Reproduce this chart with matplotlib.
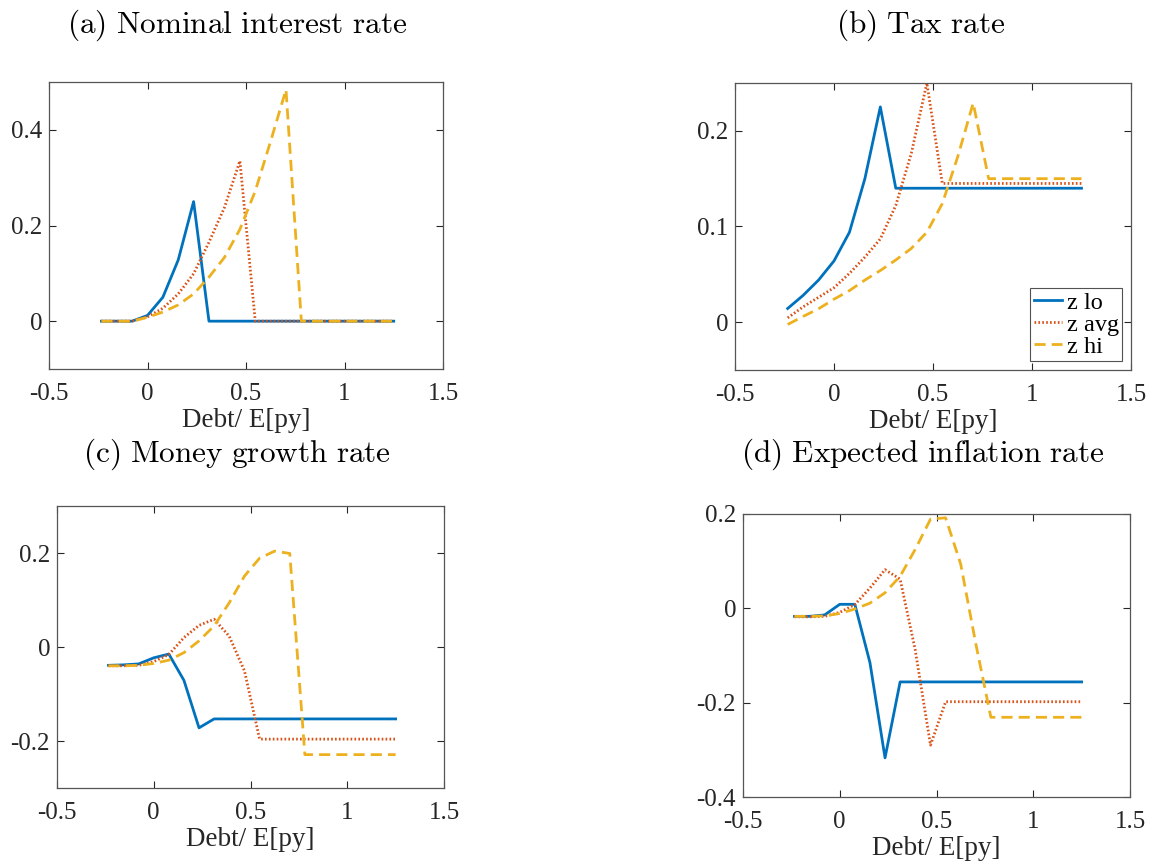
import matplotlib
matplotlib.use("Agg")
import matplotlib.pyplot as plt
from matplotlib.ticker import FuncFormatter

plt.rcParams['font.family'] = ['Liberation Serif', 'DejaVu Serif']
plt.rcParams['mathtext.fontset'] = 'cm'
plt.rcParams['axes.unicode_minus'] = False

# ---- data ----
debt = [-0.234, -0.156, -0.078, 0.0, 0.078, 0.156, 0.234, 0.312, 0.390, 0.469,
        0.547, 0.625, 0.703, 0.781, 0.859, 0.938, 1.016, 1.094, 1.172, 1.25]

nom_lo  = [0, 0, 0, 0.012, 0.050, 0.128, 0.250, 0, 0, 0, 0, 0, 0, 0, 0, 0, 0, 0, 0, 0]
nom_avg = [0, 0, 0, 0.009, 0.027, 0.057, 0.099, 0.165, 0.237, 0.335, 0, 0, 0, 0, 0, 0, 0, 0, 0, 0]
nom_hi  = [0, 0, 0, 0.008, 0.019, 0.034, 0.057, 0.092, 0.133, 0.192, 0.272, 0.376, 0.484,
           0, 0, 0, 0, 0, 0, 0]

tax_lo  = [0.0143, 0.028, 0.044, 0.064, 0.094, 0.150, 0.225, 0.140, 0.140, 0.140,
           0.140, 0.140, 0.140, 0.140, 0.140, 0.140, 0.140, 0.140, 0.140, 0.140]
tax_avg = [0.0045, 0.016, 0.026, 0.036, 0.051, 0.068, 0.087, 0.122, 0.176, 0.250,
           0.145, 0.145, 0.145, 0.145, 0.145, 0.145, 0.145, 0.145, 0.145, 0.145]
tax_hi  = [-0.0024, 0.006, 0.014, 0.024, 0.033, 0.044, 0.054, 0.065, 0.077, 0.094,
           0.124, 0.173, 0.229, 0.150, 0.150, 0.150, 0.150, 0.150, 0.150, 0.150]

mg_lo  = [-0.039, -0.038, -0.036, -0.023, -0.015, -0.071, -0.172, -0.153, -0.153, -0.153,
          -0.153, -0.153, -0.153, -0.153, -0.153, -0.153, -0.153, -0.153, -0.153, -0.153]
mg_avg = [-0.040, -0.040, -0.039, -0.031, -0.016, 0.020, 0.046, 0.059, 0.023, -0.051,
          -0.196, -0.196, -0.196, -0.196, -0.196, -0.196, -0.196, -0.196, -0.196, -0.196]
mg_hi  = [-0.040, -0.040, -0.039, -0.035, -0.028, -0.012, 0.013, 0.045, 0.094, 0.151,
          0.189, 0.204, 0.199, -0.229, -0.229, -0.229, -0.229, -0.229, -0.229, -0.229]

inf_lo  = [-0.017, -0.017, -0.014, 0.0085, 0.0085, -0.115, -0.317, -0.156, -0.156, -0.156,
           -0.156, -0.156, -0.156, -0.156, -0.156, -0.156, -0.156, -0.156, -0.156, -0.156]
inf_avg = [-0.018, -0.018, -0.017, -0.0085, 0.008, 0.043, 0.082, 0.062, -0.088, -0.290,
           -0.198, -0.198, -0.198, -0.198, -0.198, -0.198, -0.198, -0.198, -0.198, -0.198]
inf_hi  = [-0.017, -0.017, -0.016, -0.011, -0.0014, 0.011, 0.033, 0.068, 0.125, 0.189,
           0.192, 0.094, -0.075, -0.231, -0.231, -0.231, -0.231, -0.231, -0.231, -0.231]

titles = ["(a) Nominal interest rate", "(b) Tax rate",
          "(c) Money growth rate", "(d) Expected inflation rate"]
series_names = ["z lo", "z avg", "z hi"]
xlabel = "Debt/ E[py]"
xticks = [-0.5, 0, 0.5, 1, 1.5]
ylims = [(-0.1, 0.5), (-0.05, 0.25), (-0.3, 0.3), (-0.4, 0.2)]
yticks = [[0, 0.2, 0.4], [0, 0.1, 0.2], [-0.2, 0, 0.2], [-0.4, -0.2, 0, 0.2]]
panels = [(nom_lo, nom_avg, nom_hi), (tax_lo, tax_avg, tax_hi),
          (mg_lo, mg_avg, mg_hi), (inf_lo, inf_avg, inf_hi)]

colors = ['#0072BD', '#D95319', '#EDB120']
styles = ['-', (0, (0.6, 0.8)), (0, (4.0, 2.2))]

W, H = 1153, 867
fig = plt.figure(figsize=(W / 100, H / 100), dpi=100)

# axes boxes in pixels: left, right, top, bottom
boxes = [(49, 443, 82, 369), (735, 1131, 83, 370),
         (57, 444, 506, 788), (743, 1130, 514, 797)]
title_pos = [(237, 25), (921, 25), (237, 454), (923, 454)]

fmt = FuncFormatter(lambda v, p: ('%g' % v))
gray = '#262626'

for i, (l, r, t, b) in enumerate(boxes):
    ax = fig.add_axes([l / W, 1 - b / H, (r - l) / W, (b - t) / H])
    for k in range(3):
        ax.plot(debt, panels[i][k], color=colors[k], linestyle=styles[k], lw=2.0,
                label=series_names[k])
    ax.set_xlim(-0.5, 1.5)
    ax.set_ylim(*ylims[i])
    ax.set_xticks(xticks)
    ax.set_yticks(yticks[i])
    ax.xaxis.set_major_formatter(fmt)
    ax.yaxis.set_major_formatter(fmt)
    ax.tick_params(direction='in', top=True, right=True, length=5, width=0.8,
                   colors=gray, labelsize=18, labelcolor=gray)
    ax.tick_params(axis='x', pad=10)
    ax.tick_params(axis='y', pad=5)
    for s in ax.spines.values():
        s.set_color('#555555')
        s.set_linewidth(0.9)
    ax.set_xlabel(xlabel, fontsize=19.5, color=gray, labelpad=2)
    fig.text(title_pos[i][0] / W, 1 - title_pos[i][1] / H,
             r'$\mathrm{' + titles[i].replace(' ', r'\ ') + '}$',
             ha='center', va='center', fontsize=22.5, color='black')
    if i == 1:
        leg = ax.legend(loc='lower right', fontsize=17.5, frameon=True, fancybox=False,
                        handlelength=1.15, handletextpad=0.2, borderpad=0.15,
                        labelspacing=0.0, borderaxespad=0.35, edgecolor='#262626')
        leg.get_frame().set_linewidth(0.8)
        for txt in leg.get_texts():
            txt.set_color('black')

fig.savefig("out.png", dpi=100)
